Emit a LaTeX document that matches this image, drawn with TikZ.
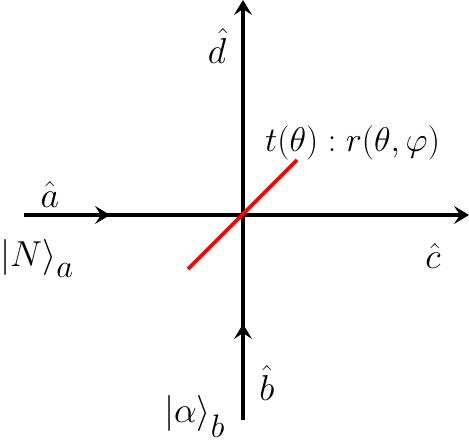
\documentclass[tikz,border=0pt]{standalone}
\usetikzlibrary{arrows.meta}
\newcommand{\lblsc}[1]{\scalebox{1.45}{\Huge #1}}
\newcommand{\bigsc}[1]{\scalebox{1.38}{\Huge #1}}
\newcommand{\subsc}[2]{\raisebox{#1}{\scalebox{0.9}{$#2$}}}
\begin{document}
\begin{tikzpicture}[x=1pt,y=-1pt,
  axis/.style={line width=4pt,-{Stealth[length=15pt,width=18pt,inset=6pt]}},
  lbl/.style={inner sep=0pt}]
\useasboundingbox (0,0) rectangle (469,442);
\coordinate (O) at (243,215);
\coordinate (L) at (24,215);
\coordinate (R) at (469,215);
\coordinate (Ma) at (110,215);
\coordinate (T) at (243,0);
\coordinate (B) at (243,420);
\coordinate (Mb) at (243,324);
\coordinate (S1) at (188,269);
\coordinate (S2) at (297,160);
\draw[axis] (L) -- (R);
\draw[axis] (L) -- (Ma);
\draw[axis] (B) -- (T);
\draw[axis] (B) -- (Mb);
\draw[red, line width=3.6pt] (S1) -- (S2);
\node[lbl, anchor=base] (a) at (50,207) {\lblsc{$\hat a$}};
\node[lbl, anchor=base] (d) at (217,63) {\lblsc{$\hat d$}};
\node[lbl, anchor=base] (b) at (267,400) {\lblsc{$\hat b$}};
\node[lbl, anchor=base] (c) at (433,268) {\lblsc{$\hat c$}};
\node[lbl, anchor=base west] (N) at (0,266) {\lblsc{$|N\rangle$\subsc{-8pt}{a}}};
\node[lbl, anchor=base west] (al) at (164,422) {\lblsc{$|\alpha\rangle$\subsc{-11pt}{b}}};
\node[lbl, anchor=base west] (t) at (265,151) {\bigsc{$t(\theta) : r(\theta,\varphi)$}};
\end{tikzpicture}
\end{document}
